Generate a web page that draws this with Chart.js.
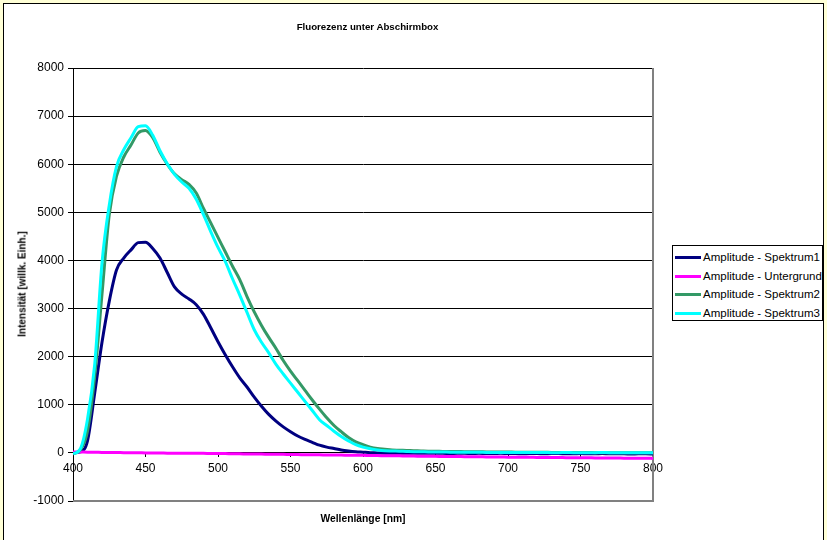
<!DOCTYPE html>
<html>
<head>
<meta charset="utf-8">
<script src="https://cdn.jsdelivr.net/npm/chart.js@4/dist/chart.umd.min.js"></script>
<style>
  body { margin: 0; background: #ffffd6; font-family: "Liberation Sans", Arial, sans-serif; }
  #rahmen { position: absolute; left: 3px; top: 3px; width: 819px; height: 545px; border: 1px solid #000; background: #fff; }
  #bild { position: absolute; left: 0; top: 0; }
  .txt { position: absolute; color: #000; white-space: nowrap; }
  #titel { left: 0; width: 735px; top: 21px; text-align: center; font-weight: bold; font-size: 9.7px; }
  #xtitel { left: 0; width: 726px; top: 513px; text-align: center; font-weight: bold; font-size: 10.3px; }
  #ytitel { left: 22px; top: 284px; font-weight: bold; font-size: 10px; transform: translate(-50%, -50%) rotate(-90deg); }
  #legende { position: absolute; left: 672px; top: 245px; width: 149px; height: 74px; border: 1px solid #000; background: #fff; }
  .zeile { position: absolute; left: 0; width: 149px; height: 14px; font-size: 11.5px; white-space: nowrap; }
  .zeile i { position: absolute; left: 2px; top: 6px; width: 26px; height: 3px; }
  .zeile span { position: absolute; left: 30px; top: 0; line-height: 14px; white-space: nowrap; }
</style>
</head>
<body>
<div id="rahmen"></div>
<canvas id="bild" width="827" height="540"></canvas>
<div class="txt" id="titel">Fluorezenz unter Abschirmbox</div>
<div class="txt" id="xtitel">Wellenlänge [nm]</div>
<div class="txt" id="ytitel">Intensität [willk. Einh.]</div>
<div id="legende"></div>
<script>
var wellenlaenge = [400,405,410,415,420,425,430,435,440,445,450,455,460,465,470,475,480,485,490,495,
  500,505,510,515,520,525,530,535,540,545,550,555,560,565,570,575,580,585,590,595,
  600,605,610,615,620,625,630,635,640,645,650,655,660,665,670,675,680,685,690,695,
  700,705,710,715,720,725,730,735,740,745,750,755,760,765,770,775,780,785,790,795,800];

var spektrum1 = [0,20,250,1250,2300,3150,3800,4050,4220,4370,4380,4250,4050,3750,3450,3300,3200,3080,2880,2600,
  2310,2040,1790,1560,1370,1160,970,800,660,540,440,350,280,220,160,120,90,60,40,25,
  15,5,0,-5,-5,-5,-5,-10,-5,-10,-10,-10,-15,-10,-10,-15,-10,-15,-15,-10,
  -15,-15,-20,-15,-15,-20,-15,-15,-20,-20,-15,-20,-20,-15,-20,-20,-20,-25,-20,-20,-25];

var untergrund = [20,20,15,15,10,10,10,5,5,5,0,0,0,-5,-5,-5,-10,-10,-10,-15,
  -15,-15,-20,-20,-25,-25,-25,-30,-30,-30,-35,-35,-40,-40,-40,-45,-45,-45,-50,-50,
  -50,-55,-55,-60,-60,-60,-65,-65,-70,-70,-70,-75,-75,-75,-80,-80,-80,-85,-85,-85,
  -90,-90,-90,-90,-95,-95,-95,-95,-100,-100,-100,-100,-105,-105,-105,-105,-110,-110,-110,-110,-115];

var spektrum2 = [-20,60,450,1600,3300,4950,5750,6150,6400,6650,6700,6550,6250,6000,5800,5680,5580,5400,5080,4780,
  4480,4180,3880,3600,3250,2930,2650,2400,2170,1920,1700,1500,1300,1100,910,730,570,440,320,230,
  170,120,90,75,60,55,50,45,40,35,35,30,30,30,25,25,25,20,20,20,
  20,15,15,15,15,15,10,10,10,10,10,10,5,5,5,5,5,5,5,5,5];

var spektrum3 = [-20,80,700,1850,3950,5150,5950,6300,6550,6780,6800,6600,6280,6010,5790,5630,5500,5270,4950,4600,
  4270,3980,3620,3280,2920,2560,2300,2080,1840,1640,1450,1260,1070,880,690,570,450,340,250,170,
  120,85,60,45,40,35,30,25,25,20,20,20,15,15,15,15,15,10,10,10,
  10,10,10,10,10,10,5,5,10,5,5,5,5,10,5,5,5,5,5,5,5];

var namen = ['Amplitude - Spektrum1', 'Amplitude - Untergrund', 'Amplitude - Spektrum2', 'Amplitude - Spektrum3'];
var farben = ['#000080', '#ff00ff', '#339966', '#00ffff'];
var reihen = [spektrum1, untergrund, spektrum2, spektrum3];
var reihenfolge = [3, 2, 1, 0]; // cyan oben

var xTicks = [400, 450, 500, 550, 600, 650, 700, 750, 800];
var yTicks = [-1000, 0, 1000, 2000, 3000, 4000, 5000, 6000, 7000, 8000];

function punkte(werte) {
  var p = [];
  for (var i = 0; i < wellenlaenge.length; i++) {
    p.push({x: wellenlaenge[i], y: werte[i]});
  }
  return p;
}

var datasets = [];
for (var k = 0; k < reihen.length; k++) {
  datasets.push({
    label: namen[k],
    data: punkte(reihen[k]),
    borderColor: farben[k],
    backgroundColor: farben[k],
    borderWidth: 3,
    pointRadius: 0,
    cubicInterpolationMode: 'monotone',
    order: reihenfolge[k]
  });
}

// legende als html
var leg = '';
for (var k = 0; k < namen.length; k++) {
  leg += '<div class="zeile" style="top:' + (4 + k * 18.5) + 'px"><i style="background:' + farben[k] + '"></i><span>' + namen[k] + '</span></div>';
}
document.getElementById('legende').innerHTML = leg;

var rahmenPlugin = {
  id: 'rahmen',
  beforeDatasetsDraw: function(chart) {
    var a = chart.chartArea;
    var ctx = chart.ctx;
    ctx.save();
    ctx.strokeStyle = '#808080';
    ctx.lineWidth = 2;
    ctx.beginPath();
    ctx.moveTo(a.left, a.bottom);
    ctx.lineTo(a.right, a.bottom);
    ctx.lineTo(a.right, a.top);
    ctx.stroke();
    ctx.restore();
  }
};

var schrift = {family: '"Liberation Sans", Arial, sans-serif', size: 12};
function ohneTrenner(v) { return String(v); }

new Chart(document.getElementById('bild').getContext('2d'), {
  type: 'line',
  data: {datasets: datasets},
  plugins: [rahmenPlugin],
  options: {
    responsive: false,
    animation: false,
    devicePixelRatio: 1,
    layout: {padding: {left: 0, top: 68, right: 174, bottom: 39}},
    plugins: {legend: {display: false}, title: {display: false}, tooltip: {enabled: false}},
    scales: {
      x: {
        type: 'linear',
        min: 400,
        max: 800,
        position: {y: 0},
        afterFit: function(s) { s.height = 0; },
        afterBuildTicks: function(s) { s.ticks = xTicks.map(function(v) { return {value: v}; }); },
        ticks: {color: '#000', font: schrift, padding: 5, maxRotation: 0, autoSkip: false, callback: ohneTrenner},
        grid: {drawOnChartArea: false, drawTicks: true, tickLength: 4, color: '#000'},
        border: {color: '#000', width: 1}
      },
      y: {
        min: -1000,
        max: 8000,
        afterFit: function(s) { s.width = 73; },
        afterBuildTicks: function(s) { s.ticks = yTicks.map(function(v) { return {value: v}; }); },
        ticks: {color: '#000', font: schrift, padding: 4, callback: ohneTrenner},
        grid: {color: '#000', lineWidth: 1, tickLength: 5},
        border: {color: '#000', width: 1}
      }
    }
  }
});
</script>
</body>
</html>
